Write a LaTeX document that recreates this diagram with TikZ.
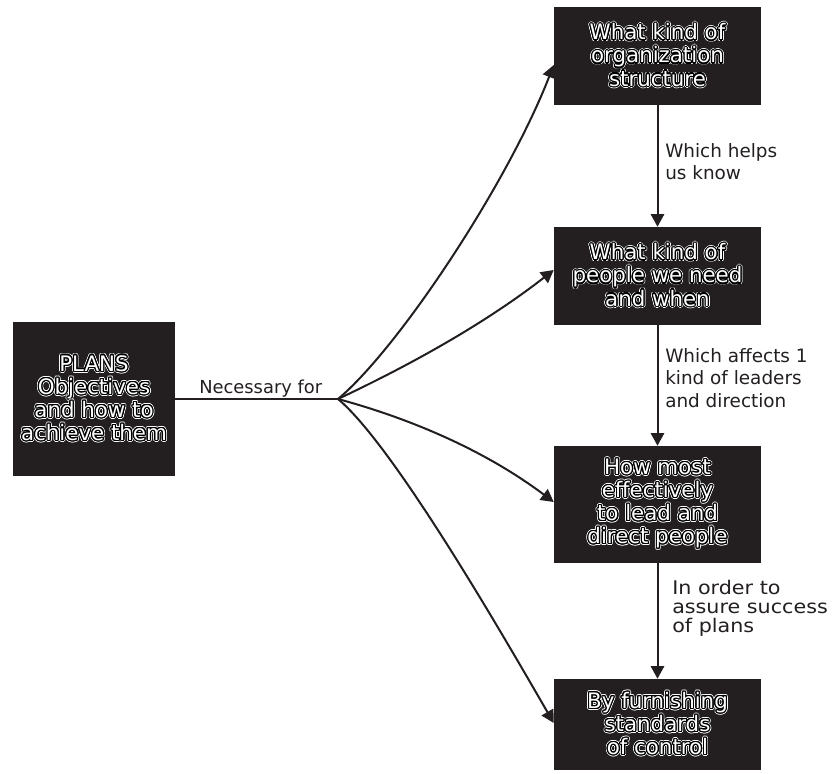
\documentclass[tikz,border=0pt]{standalone}
\usepackage{fontspec}
\setmainfont{DejaVu Sans}
\newfontfamily\widesans[FakeStretch=1.1]{DejaVu Sans}
\usepackage{contour}
\contournumber{16}
\usetikzlibrary{arrows.meta,calc}
\definecolor{boxfill}{RGB}{35,31,32}
% white letters, black rim, thin white halo
\newcommand{\hollow}[1]{\rlap{\contourlength{1.5pt}\color{black}\contour{white}{#1}}{\contourlength{0.9pt}\color{white}\contour{black}{#1}}}

\begin{document}
\begin{tikzpicture}[x=0.75pt,y=0.75pt,yscale=-1,xscale=1,
  darkbox/.style={fill=boxfill, inner sep=0pt, align=center, font=\fontsize{16}{17.3}\selectfont},
  note/.style={anchor=north west, inner sep=0pt, align=left, text=boxfill, font=\fontsize{13.8}{17}\selectfont},
  link/.style={draw=boxfill, line width=1.5pt, -{Triangle[length=9.5pt,width=10pt]}}]
\useasboundingbox (0,0) rectangle (833,774);

%Boxes
\node[darkbox, minimum width=121.5pt, minimum height=115.5pt] (plans) at (94,399) {\hollow{PLANS}\\\hollow{Objectives}\\\hollow{and how to}\\\hollow{achieve them}};
\node[darkbox, minimum width=155.25pt, minimum height=73.5pt] (org) at (657.5,56) {\hollow{What kind of}\\\hollow{organization}\\\hollow{structure}};
\node[darkbox, minimum width=155.25pt, minimum height=73.5pt] (people) at (657.5,276) {\hollow{What kind of}\\\hollow{people we need}\\\hollow{and when}};
\node[darkbox, minimum width=155.25pt, minimum height=87.75pt] (lead) at (657.5,504.5) {\hollow{How most}\\\hollow{effectively}\\\hollow{to lead and}\\\hollow{direct people}};
\node[darkbox, minimum width=155.25pt, minimum height=68.25pt] (control) at (657.5,724.5) {\hollow{By furnishing}\\\hollow{standards}\\\hollow{of control}};

%Fan of curves
\coordinate (fan) at (338,399);
\draw[draw=boxfill, line width=1.5pt] (plans.east) -- (fan);
\draw[link] (fan) .. controls (398,349) and (507,185) .. ($(org.west)+(0,9)$);
\draw[link] (fan) .. controls (408,366) and (483,325) .. ($(people.west)+(0,-6)$);
\draw[link] (fan) .. controls (408,418) and (483,449) .. ($(lead.west)+(0,-2.5)$);
\draw[link] (fan) .. controls (393,445) and (500,630) .. ($(control.west)+(0,-1.5)$);

%Chain
\draw[link] (org.south) -- (people.north);
\draw[link] (people.south) -- (lead.north);
\draw[link] (lead.south) -- (control.north);

% Text Node
\node[note, font=\fontsize{13.4}{15}\selectfont] (necessary) at (199,380) {Necessary for};
% Text Node
\node[note] (helps) at (665,143) {Which helps\\us know};
% Text Node
\node[note] (affects) at (665,348) {Which affects 1\\kind of leaders\\and direction};
% Text Node
\node[note, font=\widesans\fontsize{14.1}{14.3}\selectfont] (order) at (672,580) {In order to\\assure success\\of plans};

\end{tikzpicture}
\end{document}
